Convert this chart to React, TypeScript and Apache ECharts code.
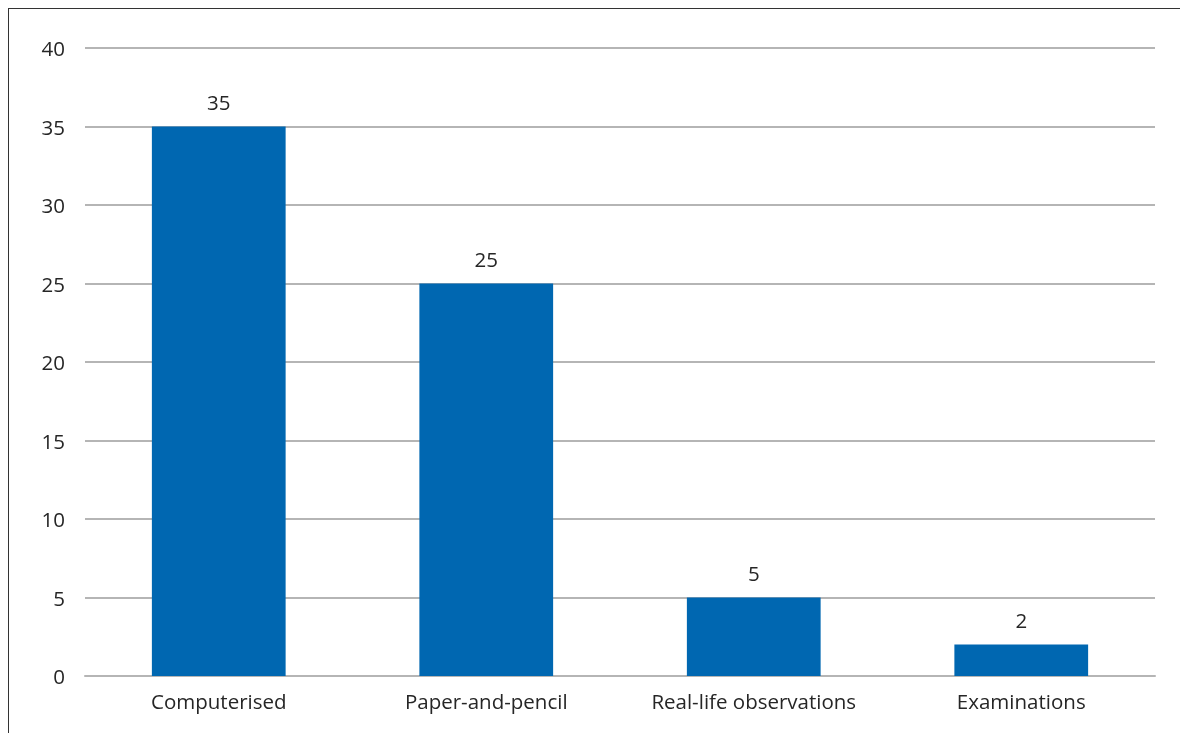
import React, { useEffect, useRef } from "react";
import * as echarts from "echarts";

const categories = ["Computerised", "Paper-and-pencil", "Real-life observations", "Examinations"];
const values = [35, 25, 5, 2];
const yTicks = [0, 5, 10, 15, 20, 25, 30, 35, 40];

export default function App() {
  const ref = useRef<HTMLDivElement>(null);
  useEffect(() => {
    if (!ref.current) return;
    const chart = echarts.init(ref.current, undefined, { renderer: "svg" });
    const font = "'Open Sans', 'Noto Sans', sans-serif";
    chart.setOption({
      animation: false,
      grid: { left: 76, right: 25, top: 39, bottom: 57, containLabel: false },
      xAxis: {
        type: "category",
        data: categories,
        axisTick: { show: false },
        axisLine: { lineStyle: { color: "#b5b5b5", width: 2 } },
        axisLabel: { color: "#262626", fontSize: 20.5, fontFamily: font, margin: 14 },
      },
      yAxis: {
        type: "value",
        min: yTicks[0],
        max: yTicks[yTicks.length - 1],
        interval: 5,
        axisLine: { show: false },
        axisTick: { show: false },
        axisLabel: { color: "#262626", fontSize: 20.5, fontFamily: font, margin: 20 },
        splitLine: { lineStyle: { color: "#b5b5b5", width: 2 } },
      },
      series: [
        {
          type: "bar",
          data: values,
          barWidth: "50%",
          itemStyle: { color: "#0067b1" },
          label: { show: true, position: "top", color: "#262626", fontSize: 20.5, fontFamily: font, distance: 14 },
        },
      ],
    });
    return () => chart.dispose();
  }, []);
  return (
    <div
      style={{
        position: "fixed",
        left: 8,
        top: 8,
        width: 1171,
        height: 724,
        borderTop: "1px solid #333",
        borderLeft: "1px solid #333",
        overflow: "hidden",
      }}
    >
      <div ref={ref} style={{ width: 1171, height: 724 }} />
    </div>
  );
}
